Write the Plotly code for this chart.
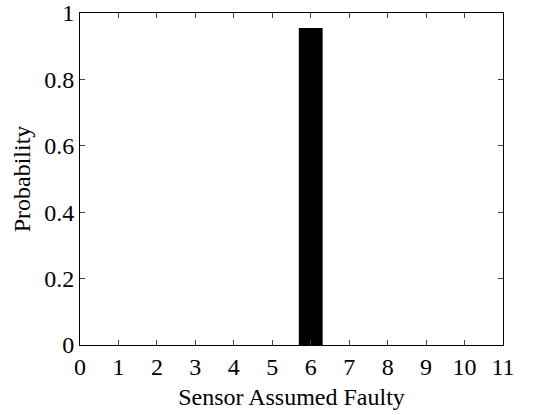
import plotly.graph_objects as go

sensors = [1, 2, 3, 4, 5, 6, 7, 8, 9, 10]
probability = [0, 0, 0, 0, 0, 0.955, 0, 0, 0, 0]
x_ticks = list(range(0, 12))
y_ticks = [0, 0.2, 0.4, 0.6, 0.8, 1]
y_tick_labels = ["0", "0.2", "0.4", "0.6", "0.8", "1"]

fig = go.Figure()
fig.add_trace(go.Bar(x=sensors, y=probability, width=0.62,
                     marker=dict(color="black", line=dict(width=0))))

font = dict(family="Liberation Serif", size=24, color="black")
fig.update_layout(
    width=548, height=415,
    margin=dict(l=80, r=45, t=13, b=70),
    paper_bgcolor="white", plot_bgcolor="white",
    showlegend=False,
    font=font,
)
fig.update_xaxes(range=[0, 11], tickvals=x_ticks, ticks="inside", ticklen=5,
                 showline=True, linecolor="black", linewidth=1, mirror="ticks",
                 showgrid=False, zeroline=False, tickfont=font, automargin=False,
                 title=dict(text="Sensor Assumed Faulty", font=font, standoff=9))
fig.update_yaxes(range=[0, 1], tickvals=y_ticks, ticktext=y_tick_labels,
                 ticks="inside", ticklen=5,
                 showline=True, linecolor="black", linewidth=1, mirror="ticks",
                 showgrid=False, zeroline=False, tickfont=font, automargin=False,
                 title=dict(text="Probability", font=font, standoff=6))

fig.write_html("out.html")
